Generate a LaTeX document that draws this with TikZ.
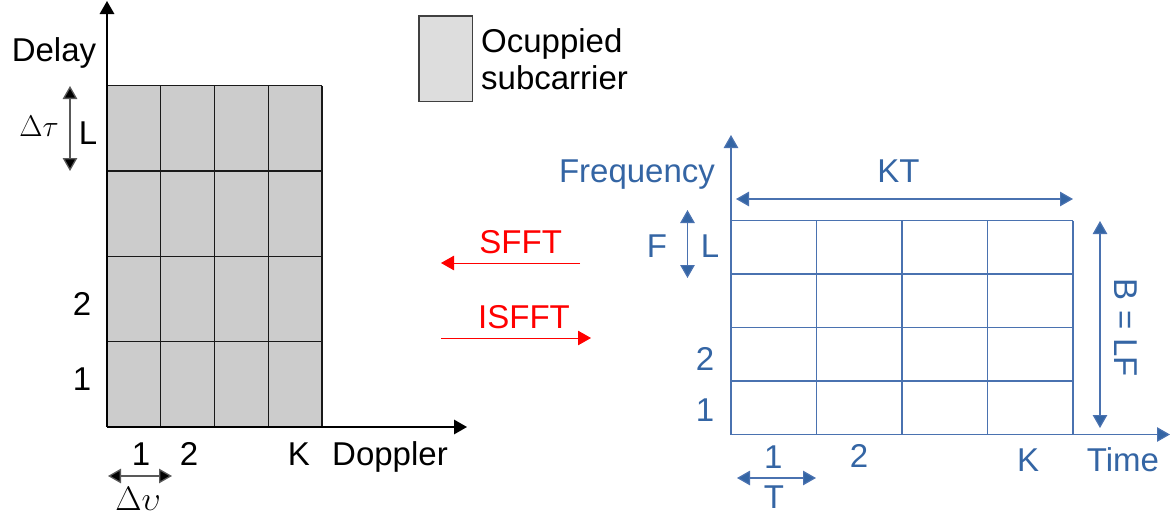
\RequirePackage{fix-cm}
\documentclass[tikz,border=0pt]{standalone}
\usepackage[no-math]{fontspec}
\setmainfont{Liberation Sans}
\usetikzlibrary{arrows.meta}
\definecolor{ofsblue}{HTML}{3465A4}
\definecolor{ofsline}{HTML}{4A72B0}
\definecolor{cellgray}{HTML}{CCCCCC}
\definecolor{legendgray}{HTML}{DDDDDD}
\begin{document}
\begin{tikzpicture}[x=1pt,y=-1pt,
  lbl/.style={font=\fontsize{33}{40}\selectfont, inner sep=0pt, anchor=base},
  blbl/.style={lbl, text=ofsblue},
  rlbl/.style={lbl, text=red},
  tipend/.style={-{Triangle[length=13pt,width=14.5pt]}},
  blacktips/.style={{Triangle[length=13pt,width=14.5pt,fill=black]}-{Triangle[length=13pt,width=14.5pt,fill=black]}},
  bluetips/.style={{Triangle[length=13pt,width=14.5pt,fill=ofsblue]}-{Triangle[length=13pt,width=14.5pt,fill=ofsblue]}},
  bluetip/.style={-{Triangle[length=13pt,width=14.5pt,fill=ofsblue]}},
  axisline/.style={line width=1.5pt, black},
  cellline/.style={line width=1.2pt, black!90},
  dimline/.style={line width=1.3pt, black!65},
  blueline/.style={line width=1.2pt, ofsline},
  redline/.style={line width=1pt, red}
]
\useasboundingbox (0,0) rectangle (1176,525);

% ---------- delay-Doppler grid ----------
\fill[cellgray] (107,85.7) rectangle (322,427);
\foreach \i in {0,...,4}
  \draw[cellline] ({107+53.75*\i},85.7) -- ({107+53.75*\i},427);
\foreach \j in {0,...,4}
  \draw[cellline] (107,{85.7+85.33*\j}) -- (322,{85.7+85.33*\j});

\coordinate (ddO) at (107,427);
\coordinate (ddY) at (107,1);
\coordinate (ddX) at (467,427);
\draw[axisline, tipend] (ddO) -- (ddY);
\draw[axisline, tipend] (ddO) -- (ddX);

\node[lbl] (delay) at (54,61) {Delay};
\node[lbl] (doppler) at (390,465) {Doppler};
\node[lbl] (dl2) at (82,315) {2};
\node[lbl] (dl1) at (82,390) {1};
\node[lbl] (dk1) at (141,465) {1};
\node[lbl] (dk2) at (189,465) {2};
\node[lbl] (dkK) at (299,465) {K};

% delay resolution
\coordinate (dtTop) at (70,86);
\coordinate (dtBot) at (70,171);
\draw[dimline, blacktips] (dtTop) -- (dtBot);
\node[lbl, font=\fontsize{30}{36}\selectfont] (dtau) at (39,136.5) {$\Delta\tau$};
\node[lbl] (dL) at (88,144) {L};

% Doppler resolution
\coordinate (dvL) at (108,476);
\coordinate (dvR) at (172,476);
\draw[dimline, blacktips] (dvL) -- (dvR);
\node[lbl, font=\fontsize{34}{40}\selectfont] (dnu) at (138,510.5) {$\Delta\upsilon$};

% ---------- legend ----------
\draw[line width=1.2pt, draw=black!75, fill=legendgray] (419,16) rectangle (472.7,101.7);
\node[lbl, anchor=base west] (leg1) at (481,52) {Ocuppied};
\node[lbl, anchor=base west] (leg2) at (481,89) {subcarrier};

% ---------- transforms ----------
\coordinate (sfR) at (580,263);
\coordinate (sfL) at (441,263);
\draw[redline, tipend] (sfR) -- (sfL);
\node[rlbl] (sfft) at (520.7,253) {SFFT};
\coordinate (isL) at (441,338);
\coordinate (isR) at (591,338);
\draw[redline, tipend] (isL) -- (isR);
\node[rlbl] (isfft) at (524,328) {ISFFT};

% ---------- time-frequency grid ----------
\foreach \i in {0,...,4}
  \draw[blueline] ({731+85.5*\i},220.5) -- ({731+85.5*\i},434.5);
\foreach \j in {0,...,4}
  \draw[blueline] (731,{220.5+53.5*\j}) -- (1073,{220.5+53.5*\j});

\coordinate (tfO) at (731,434.5);
\coordinate (tfY) at (731,135);
\coordinate (tfX) at (1170,434.5);
\draw[blueline, bluetip] (tfO) -- (tfX);
\draw[blueline, bluetip] (tfO) -- (tfY);

\node[blbl] (freq) at (637,182.7) {Frequency};
\node[blbl] (time) at (1123,471.7) {Time};
\node[blbl] (tf2) at (705,370) {2};
\node[blbl] (tf1) at (705,421.7) {1};
\node[blbl] (tk1) at (773.4,468) {1};
\node[blbl] (tk2) at (859,467.7) {2};
\node[blbl] (tkK) at (1028,471.7) {K};

% total duration
\coordinate (ktL) at (736,199);
\coordinate (ktR) at (1073,199);
\draw[blueline, bluetips] (ktL) -- (ktR);
\node[blbl] (kt) at (898.5,182.7) {KT};

% subcarrier spacing
\coordinate (flT) at (687.5,210);
\coordinate (flB) at (687.5,278);
\draw[blueline, bluetips] (flT) -- (flB);
\node[blbl] (fF) at (657,257.7) {F};
\node[blbl] (fL) at (710,257.7) {L};

% bandwidth
\coordinate (bwT) at (1100,221);
\coordinate (bwB) at (1100,428);
\draw[blueline, bluetips] (bwT) -- (bwB);
\node[blbl, anchor=center, rotate=-90] (bw) at (1126,328) {B = LF};

% symbol duration
\coordinate (tsL) at (737,478);
\coordinate (tsR) at (816,478);
\draw[blueline, bluetips] (tsL) -- (tsR);
\node[blbl] (tsT) at (774,508.3) {T};
\end{tikzpicture}
\end{document}
